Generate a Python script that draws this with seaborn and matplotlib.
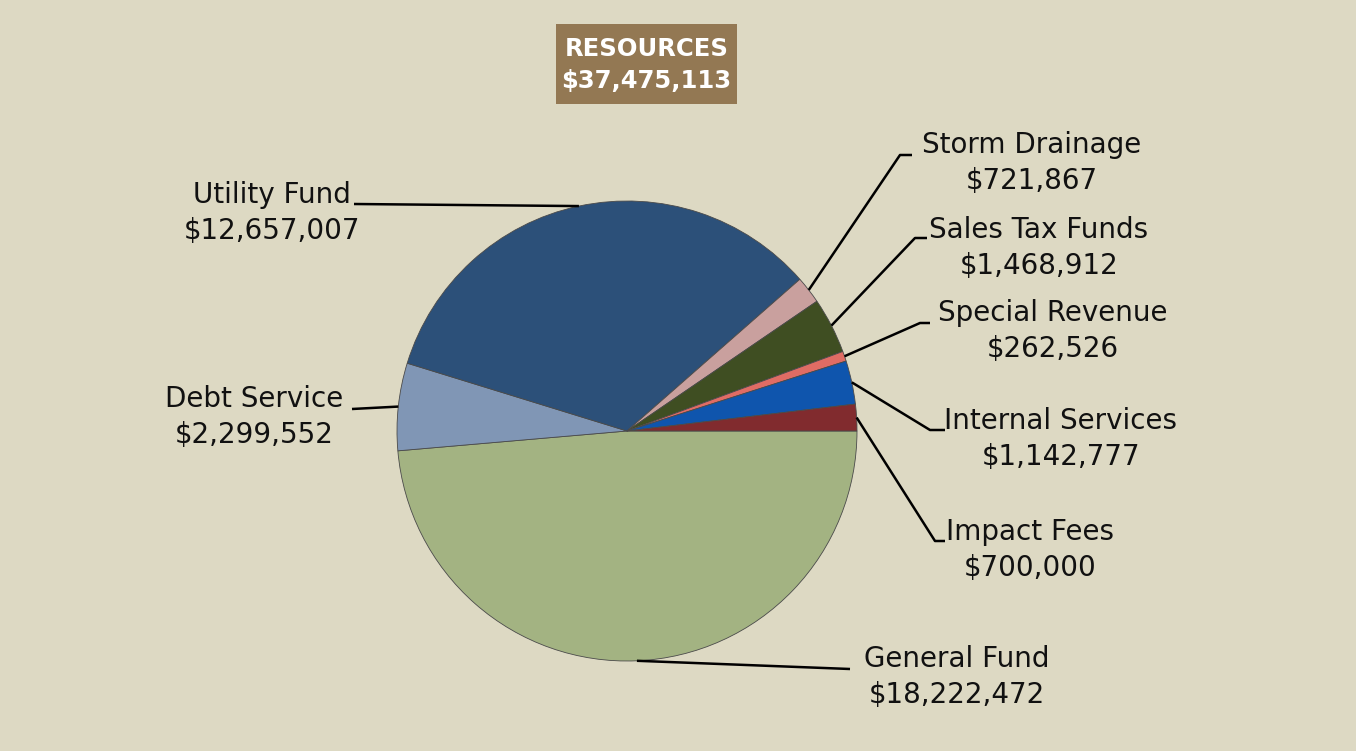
import numpy as np
import matplotlib
matplotlib.use("Agg")
import matplotlib.pyplot as plt
from matplotlib.patches import Rectangle
import seaborn as sns

# ---- data ----
categories = ["General Fund", "Debt Service", "Utility Fund", "Storm Drainage",
              "Sales Tax Funds", "Special Revenue", "Internal Services", "Impact Fees"]
values = [18222472, 2299552, 12657007, 721867, 1468912, 262526, 1142777, 700000]
value_labels = ["$18,222,472", "$2,299,552", "$12,657,007", "$721,867",
                "$1,468,912", "$262,526", "$1,142,777", "$700,000"]
title_lines = ["RESOURCES", "$37,475,113"]
colors = ["#A3B382", "#8096B5", "#2C5079", "#C9A09E",
          "#3F4E22", "#E06C64", "#0F55AD", "#812B2E"]

# ---- layout (pixel coordinates, y down) ----
W, H = 1356, 751
BG = "#DDD9C3"
center = (627, 431)
radius = 230
label_pos = [(957, 677), (254, 417), (272, 213), (1032, 163),
             (1039, 248), (1053, 331), (1061, 439), (1030, 550)]
leader_elbows = [[(850, 669)], [(352, 409)], [(354, 204)],
                 [(912, 155), (900, 155)], [(927, 238), (915, 238)],
                 [(930, 323), (920, 323)], [(945, 430), (930, 430)],
                 [(945, 541), (935, 541)]]

sns.set_theme(style="white")
plt.rcParams['font.family'] = ['DejaVu Sans']

fig = plt.figure(figsize=(W / 100, H / 100), dpi=100, facecolor=BG)
ax = fig.add_axes([0, 0, 1, 1])
ax.set_facecolor(BG)

palette = sns.color_palette(colors)
wedges, _ = ax.pie(values, colors=palette, startangle=0, counterclock=True,
                   center=center, radius=radius,
                   wedgeprops=dict(edgecolor="#4a4a4a", linewidth=0.6))
ax.set_xlim(0, W)
ax.set_ylim(H, 0)
ax.set_aspect('equal')
ax.axis('off')

for w, name, val, pos, elbows in zip(wedges, categories, value_labels, label_pos, leader_elbows):
    mid = np.deg2rad((w.theta1 + w.theta2) / 2)
    anchor = (center[0] + radius * np.cos(mid), center[1] + radius * np.sin(mid))
    pts = elbows + [anchor]
    ax.plot([p[0] for p in pts], [p[1] for p in pts], color="black", lw=1.8,
            solid_capstyle='butt', zorder=5)
    ax.text(pos[0], pos[1], f"{name}\n{val}", ha='center', va='center',
            fontsize=20, color="#111111", linespacing=1.33, multialignment='center')

ax.add_patch(Rectangle((556, 24), 181, 80, facecolor="#937853", edgecolor='none', zorder=6))
ax.text(646.5, 65, "\n".join(title_lines), ha='center', va='center', color='white',
        fontsize=17.5, fontweight='bold', linespacing=1.4, zorder=7)

fig.savefig("out.png", dpi=100, facecolor=BG)
